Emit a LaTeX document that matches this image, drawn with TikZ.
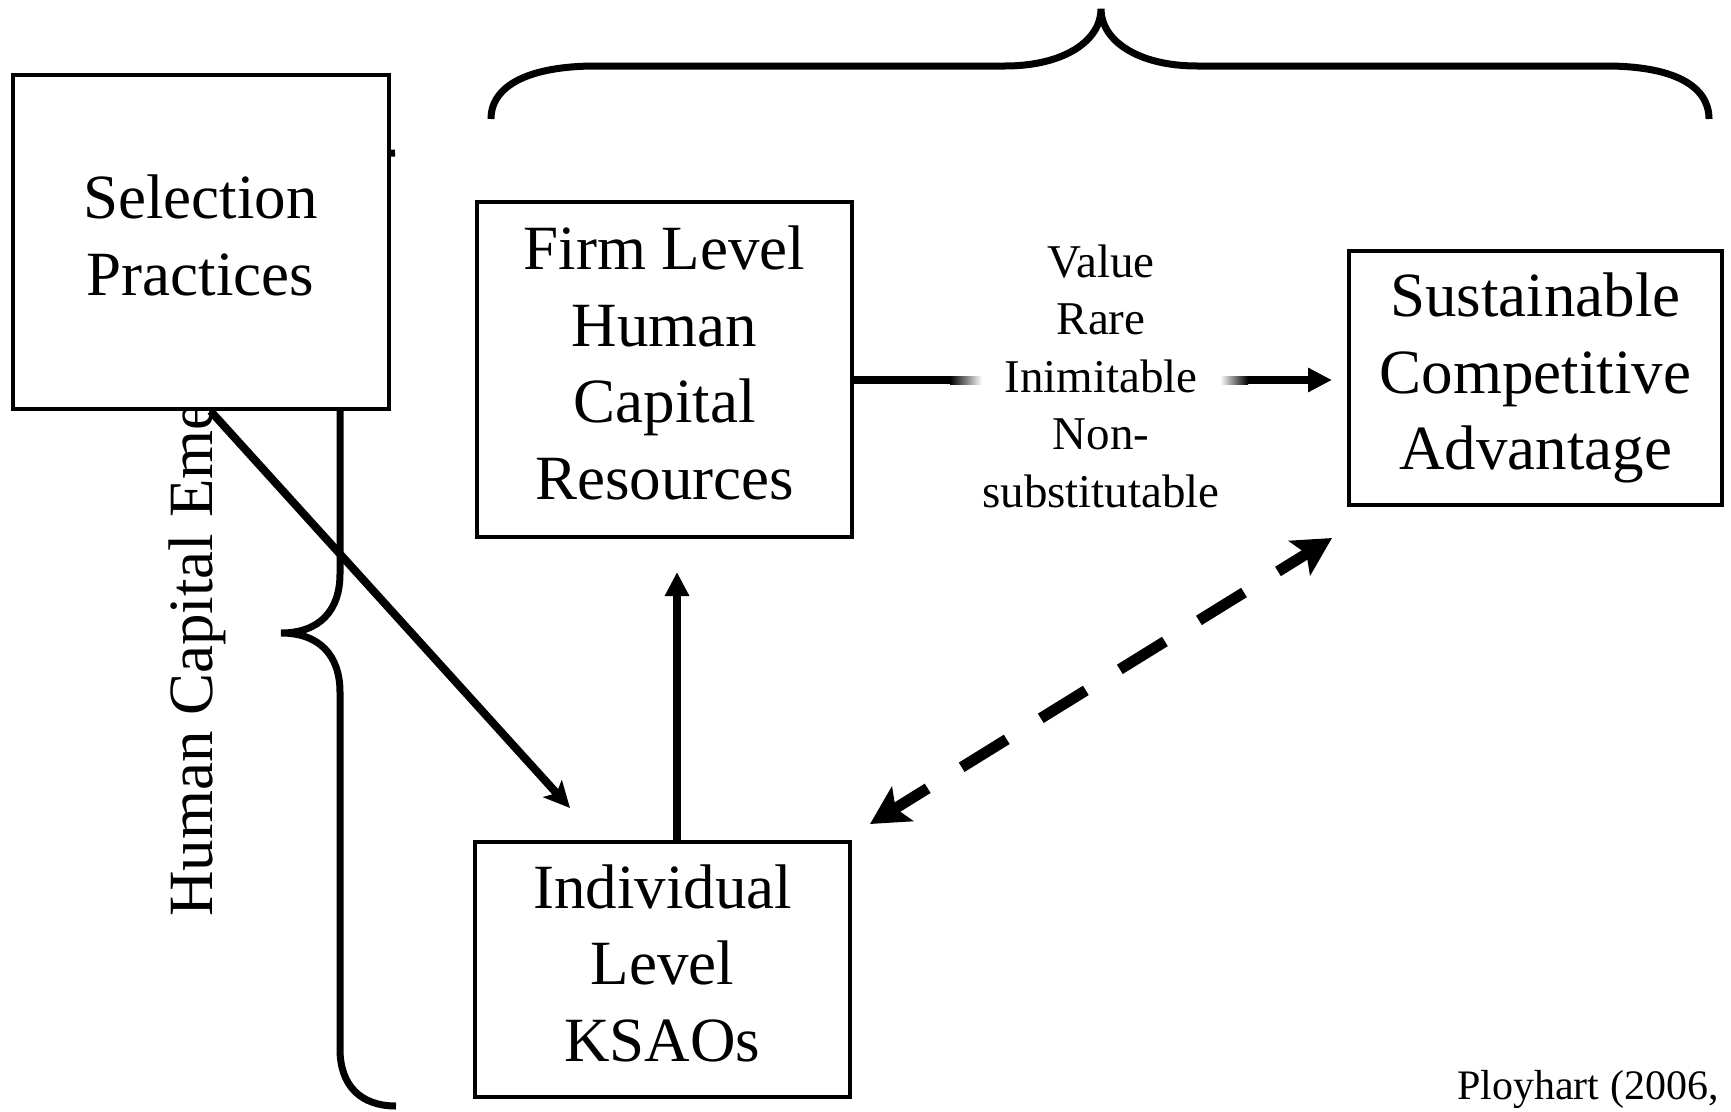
\documentclass[tikz,border=0pt]{standalone}
\usepackage{fontspec}
\setmainfont{Liberation Serif}
\usetikzlibrary{arrows.meta,calc}
\begin{document}
\begin{tikzpicture}[x=1pt,y=-1pt,
  box/.style={draw, line width=4pt, fill=white, align=center, inner sep=0pt,
    font=\fontsize{63}{76.5}\selectfont},
  conn/.style={line width=8pt, -{Triangle[length=24pt,width=23pt]}},
  diag/.style={line width=8pt, -{Stealth[length=26pt,width=25pt,inset=6pt]}},
  brace/.style={line width=7pt},
  dashconn/.style={line width=11pt, dash pattern=on 53pt off 40pt, dash phase=13pt,
    {Stealth[length=38pt,width=40pt,inset=8pt]}-{Stealth[length=38pt,width=40pt,inset=8pt]}},
  bigtext/.style={font=\fontsize{63}{76.5}\selectfont, inner sep=0pt},
]
\useasboundingbox (0,0) rectangle (1731,1111);

% rotated label, partly hidden by the selection box
\node[bigtext, rotate=90, anchor=base west] (hce) at (212,917) {Human Capital Emergence};

% left brace (top arm hidden behind the selection box)
\draw[brace] (395,153) .. controls (360,153) and (340,175) .. (340,212) -- (340,574)
  .. controls (340,610) and (320,633) .. (281,633)
  .. controls (320,633) and (340,656) .. (340,692) -- (340,1049)
  .. controls (340,1085) and (360,1106) .. (396,1106);

% top brace
\draw[brace] (491,119) .. controls (491,85) and (530,66) .. (596,66) -- (1005,66)
  .. controls (1065,66) and (1101,40) .. (1101,9)
  .. controls (1101,40) and (1137,66) .. (1197,66) -- (1606,66)
  .. controls (1672,66) and (1709,85) .. (1709,119);

% boxes
\node[box, minimum width=376, minimum height=334] (sel) at (200.5,242) {Selection\\Practices\vphantom{g}};
\node[box, minimum width=375, minimum height=335] (firm) at (664.5,369.5) {Firm Level\\Human\\Capital\\Resources\vphantom{g}};
\node[box, minimum width=373, minimum height=254] (sust) at (1535.5,378) {Sustainable\\Competitive\\Advantage\vphantom{g}};
\node[box, minimum width=375, minimum height=255] (ind) at (662.5,969.5) {Individual\\Level\\KSAOs\vphantom{g}};

% connectors
\coordinate (hstart) at ($(firm.east)+(0,10.5)$);
\draw[conn] (hstart) -- ($(sust.west)+(-15,2)$);
\node[fill=white, inner xsep=0pt, inner ysep=4pt, align=center,
  font=\fontsize{47}{57.5}\selectfont] (vrin) at (1101,376)
  {Value\\Rare\\Inimitable\\Non-\\substitutable};
\shade[left color=black, right color=white]
  ($(vrin.west |- hstart)+(-32,-4)$) rectangle ($(vrin.west |- hstart)+(0,4)$);
\shade[left color=white, right color=black]
  ($(vrin.east |- hstart)+(0,-4)$) rectangle ($(vrin.east |- hstart)+(28,4)$);

\draw[diag] ($(sel.south)+(10,0)$) -- ($(ind.north west)+(97,-32)$);
\draw[conn] ($(ind.north)+(14.5,0)$) -- ($(firm.south)+(12.5,33)$);
\draw[dashconn] ($(ind.north east)+(18,-16)$) -- ($(sust.south west)+(-15,31)$);

\node[anchor=base west, font=\fontsize{42}{50}\selectfont, inner sep=0pt] (cite) at (1457,1099) {Ployhart (2006,};
\end{tikzpicture}
\end{document}
